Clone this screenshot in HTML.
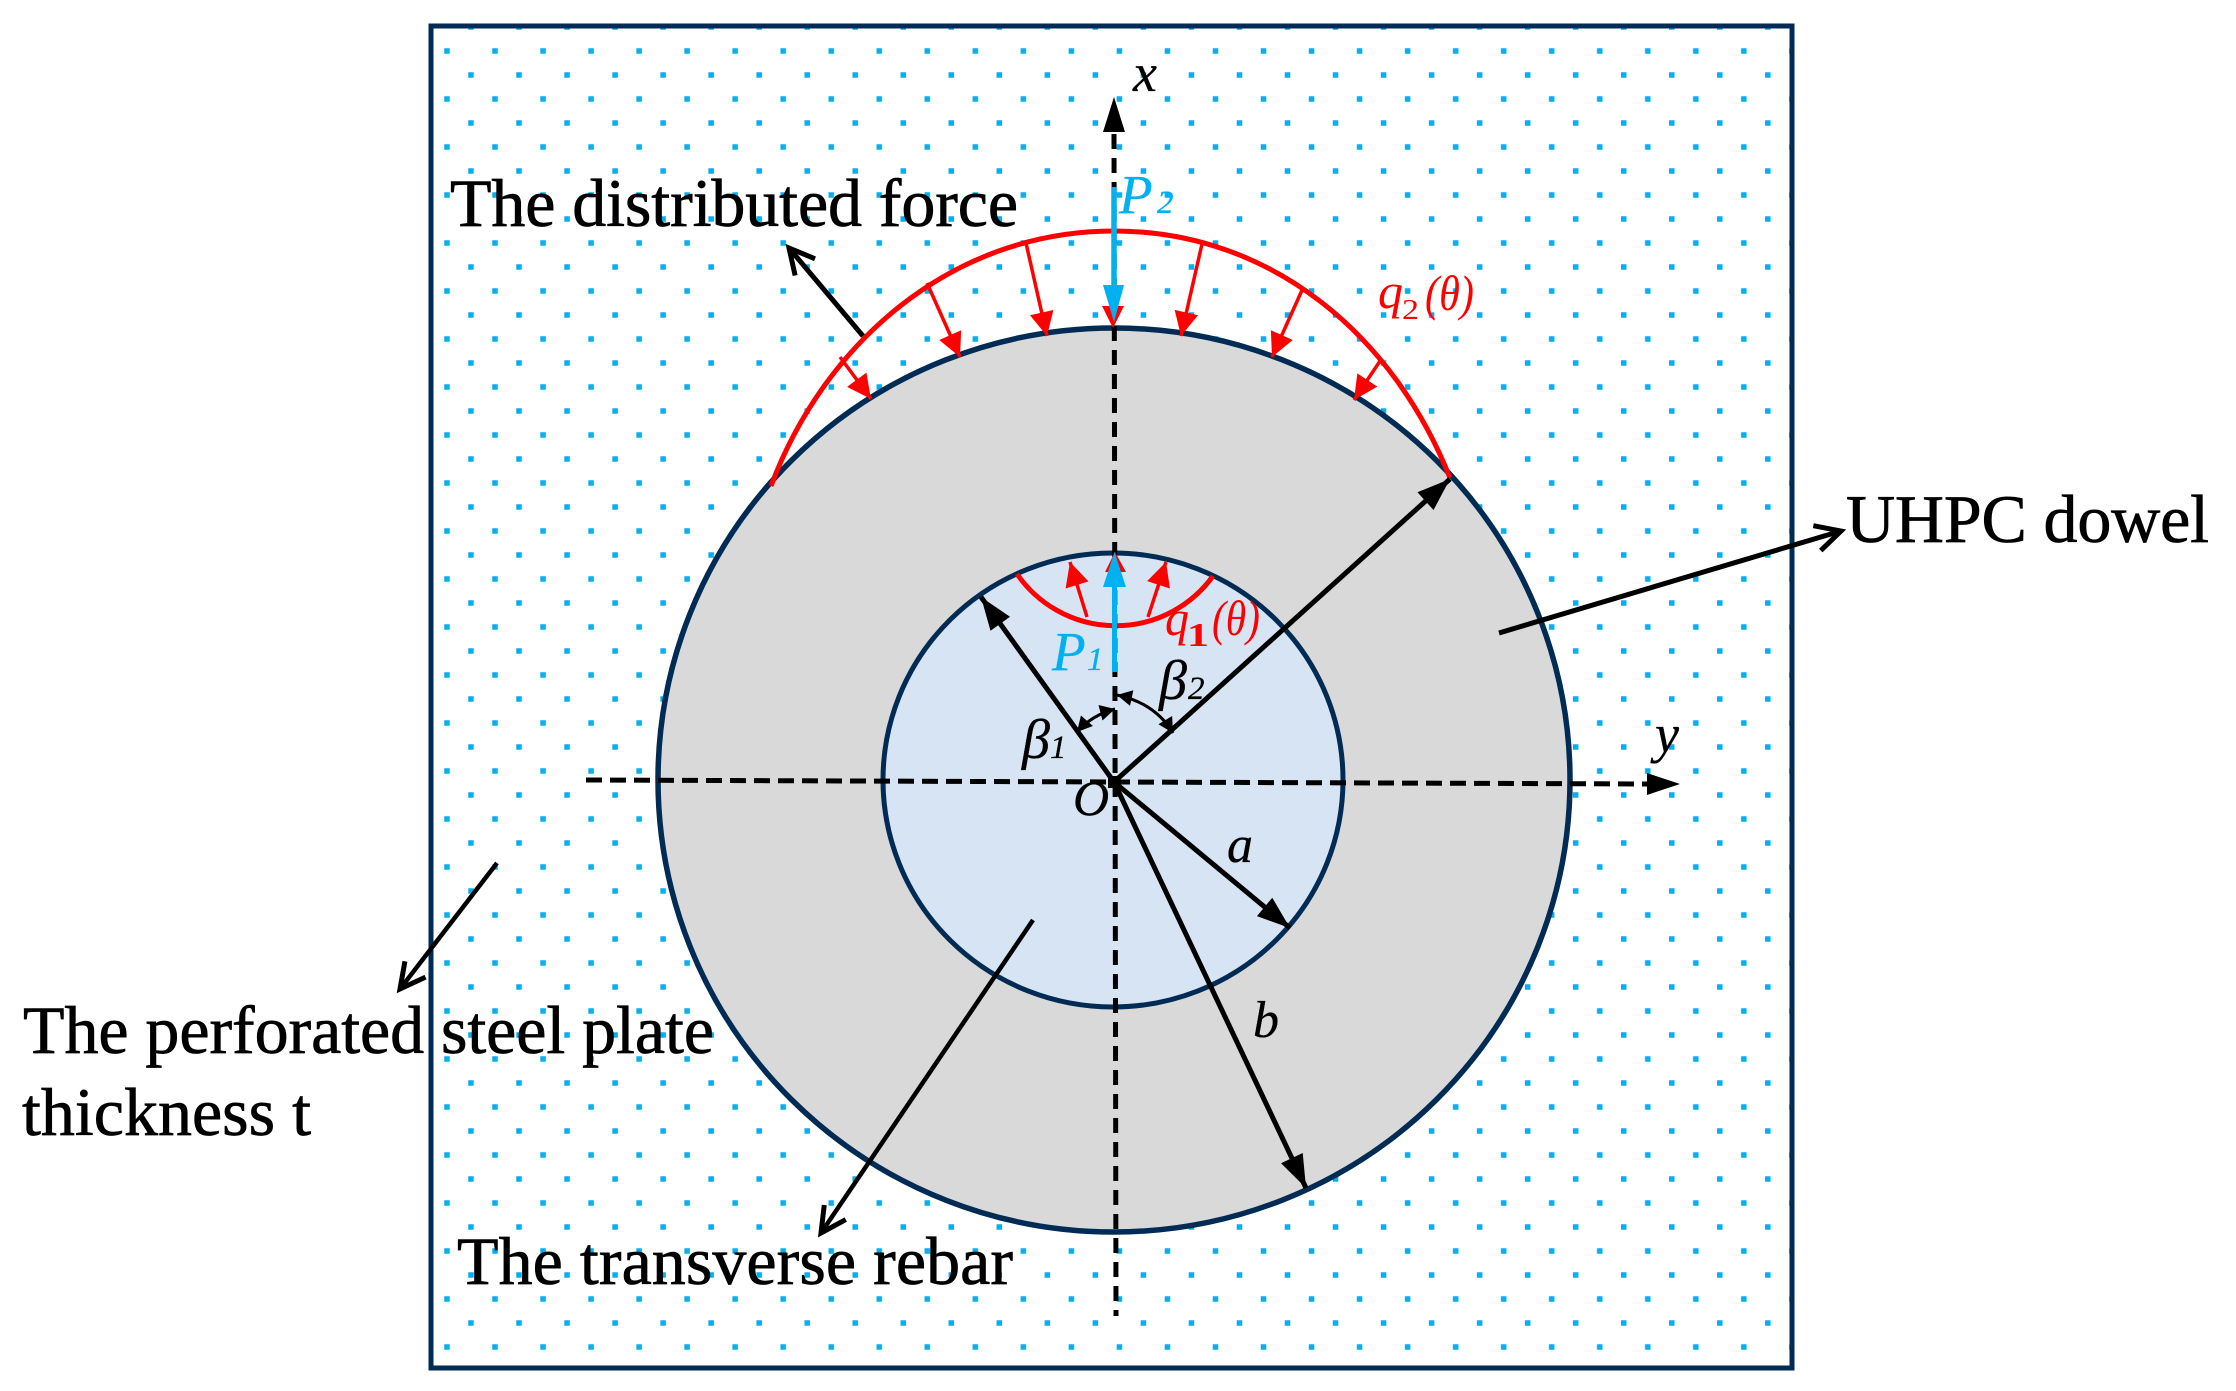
<!DOCTYPE html>
<html>
<head>
<meta charset="utf-8">
<style>
html,body{margin:0;padding:0;background:#fff;width:2236px;height:1391px;overflow:hidden}
svg{display:block}
text{font-family:"Liberation Serif",serif}
</style>
</head>
<body>
<svg width="2236" height="1391" viewBox="0 0 2236 1391" xmlns="http://www.w3.org/2000/svg">
<defs>
<pattern id="dots" patternUnits="userSpaceOnUse" x="444" y="48" width="48.03" height="48">
<rect x="0.25" y="0.25" width="5.5" height="5.5" fill="#00B0F0"/>
<rect x="24.25" y="24.25" width="5.5" height="5.5" fill="#00B0F0"/>
</pattern>
<marker id="open" markerUnits="userSpaceOnUse" viewBox="-40 -20 50 40" markerWidth="50" markerHeight="40" refX="0" refY="0" orient="auto">
<path d="M-25,-13 L0,0 L-25,13" fill="none" stroke="#000" stroke-width="5"/>
</marker>
<marker id="blk" markerUnits="userSpaceOnUse" viewBox="-40 -20 50 40" markerWidth="50" markerHeight="40" refX="0" refY="0" orient="auto">
<path d="M-33,-12 L0,0 L-33,12 Z" fill="#000"/>
</marker>
<marker id="red" markerUnits="userSpaceOnUse" viewBox="-40 -20 50 40" markerWidth="50" markerHeight="40" refX="0" refY="0" orient="auto">
<path d="M-24,-12 L0,0 L-24,12 Z" fill="#f00"/>
</marker>
<marker id="sm" markerUnits="userSpaceOnUse" viewBox="-20 -10 30 20" markerWidth="30" markerHeight="20" refX="0" refY="0" orient="auto-start-reverse">
<path d="M-15,-8 L0,0 L-15,8 Z" fill="#000"/>
</marker>
</defs>

<rect x="431" y="26" width="1361" height="1342" fill="#fff"/>
<rect x="431" y="26" width="1361" height="1342" fill="url(#dots)"/>

<!-- main labels sit over the dots -->
<g font-size="68" fill="#000" stroke="#000" stroke-width="0.7">
<text x="450" y="226" textLength="568" lengthAdjust="spacing">The distributed force</text>
<text x="23" y="1053" textLength="691" lengthAdjust="spacing">The perforated steel plate</text>
<text x="22" y="1135" textLength="289" lengthAdjust="spacing">thickness t</text>
<text x="457" y="1284" textLength="556" lengthAdjust="spacing">The transverse rebar</text>
<text x="1846" y="542" textLength="363" lengthAdjust="spacing">UHPC dowel</text>
</g>

<rect x="431" y="26" width="1361" height="1342" fill="none" stroke="#002B54" stroke-width="5"/>

<ellipse cx="1114" cy="780" rx="456" ry="452" fill="#D9D9D9" stroke="#002B54" stroke-width="5.5"/>
<ellipse cx="1113" cy="780" rx="230" ry="227" fill="#D7E4F3" stroke="#002B54" stroke-width="5"/>

<!-- axes -->
<line x1="1114" y1="134" x2="1116" y2="1316" stroke="#000" stroke-width="5" stroke-dasharray="15 9"/>
<polygon points="1114,97 1103,132 1125,132" fill="#000"/>
<line x1="586" y1="780" x2="1650" y2="784" stroke="#000" stroke-width="5" stroke-dasharray="16 8"/>
<polygon points="1680,784 1647,773 1647,795" fill="#000"/>

<!-- outer red distributed force -->
<path d="M771 486 C823.5 345 950 231 1114 231 C1274 231 1395 338.5 1450 478" fill="none" stroke="#f00" stroke-width="5"/>
<g stroke="#f00" stroke-width="3.5" fill="none">
<line x1="840" y1="357" x2="871" y2="399" marker-end="url(#red)"/>
<line x1="927" y1="283" x2="960" y2="357" marker-end="url(#red)"/>
<line x1="1026" y1="243" x2="1047" y2="336" marker-end="url(#red)"/>
<line x1="1202" y1="244" x2="1181" y2="336" marker-end="url(#red)"/>
<line x1="1303" y1="288" x2="1272" y2="357" marker-end="url(#red)"/>
<line x1="1382" y1="358" x2="1354" y2="400" marker-end="url(#red)"/>
</g>
<polygon points="1113,328 1102,306 1124,306" fill="#f00"/>

<!-- inner red -->
<path d="M1017 574 A 120 120 0 0 0 1213 576" fill="none" stroke="#f00" stroke-width="5"/>
<g stroke="#f00" stroke-width="3.5" fill="none">
<line x1="1087" y1="617" x2="1070" y2="562" marker-end="url(#red)"/>
<line x1="1148" y1="617" x2="1166" y2="562" marker-end="url(#red)"/>
</g>
<polygon points="1115,552 1105,572 1126,572" fill="#f00"/>

<!-- blue forces -->
<line x1="1114" y1="187" x2="1114" y2="290" stroke="#00B0F0" stroke-width="5.5"/>
<polygon points="1114,322 1103,285 1124,285" fill="#00B0F0"/>
<line x1="1114.5" y1="672" x2="1114.5" y2="582" stroke="#00B0F0" stroke-width="5"/>
<polygon points="1114.5,552 1103,587 1126,587" fill="#00B0F0"/>

<!-- radial arrows -->
<g stroke="#000" stroke-width="5" fill="none">
<line x1="1114" y1="782" x2="981" y2="597" marker-end="url(#blk)"/>
<line x1="1114" y1="782" x2="1450" y2="479" marker-end="url(#blk)"/>
<line x1="1114" y1="782" x2="1290" y2="928" marker-end="url(#blk)"/>
<line x1="1114" y1="782" x2="1306" y2="1188" marker-end="url(#blk)"/>
</g>
<rect x="1108" y="776" width="12" height="12" fill="#000"/>

<!-- leader arrows -->
<g stroke="#000" fill="none">
<line x1="863" y1="336" x2="789" y2="248" stroke-width="5" marker-end="url(#open)"/>
<line x1="497" y1="863" x2="400" y2="989" stroke-width="4.5" marker-end="url(#open)"/>
<line x1="1499" y1="633" x2="1841" y2="531" stroke-width="5" marker-end="url(#open)"/>
<line x1="1033" y1="920" x2="821" y2="1233" stroke-width="4.5" marker-end="url(#open)"/>
</g>

<!-- angle arcs -->
<g stroke="#000" stroke-width="3" fill="none">
<path d="M1077 732 Q1092 715 1115 709" marker-start="url(#sm)" marker-end="url(#sm)"/>
<path d="M1117 695 Q1155 703 1173 733" marker-start="url(#sm)" marker-end="url(#sm)"/>
</g>

<!-- math labels -->
<g font-style="italic" fill="#000" stroke="#000" stroke-width="0.3">
<text x="1133" y="91" font-size="54">x</text>
<text x="1655" y="752" font-size="54">y</text>
<text x="1073" y="815" font-size="50">O</text>
<text x="1227" y="862" font-size="52">a</text>
<text x="1253" y="1037" font-size="52">b</text>
<text x="1022" y="758" font-size="56">β</text>
<text x="1050" y="758" font-size="33">1</text>
<text x="1159" y="699" font-size="56">β</text>
<text x="1188" y="699" font-size="33">2</text>
</g>
<g font-style="italic" fill="#00B0F0" stroke="#00B0F0" stroke-width="0.3">
<text x="1119" y="213" font-size="55">P</text>
<text x="1157" y="213" font-size="33">2</text>
<text x="1052" y="670" font-size="55">P</text>
<text x="1087" y="670" font-size="33">1</text>
</g>
<g fill="#f00">
<text x="1165" y="635" font-size="50" font-style="italic" textLength="24" lengthAdjust="spacingAndGlyphs">q</text>
<text x="1187" y="646" font-size="34" font-weight="bold" textLength="22" lengthAdjust="spacingAndGlyphs">1</text>
<text x="1212" y="635" font-size="50" font-style="italic" textLength="48" lengthAdjust="spacingAndGlyphs">(θ)</text>
<text x="1378" y="308" font-size="50" font-style="italic">q</text>
<text x="1402" y="319" font-size="29" textLength="17" lengthAdjust="spacingAndGlyphs">2</text>
<text x="1425" y="310" font-size="50" font-style="italic" textLength="49" lengthAdjust="spacingAndGlyphs">(θ)</text>
</g>
</svg>
</body>
</html>
